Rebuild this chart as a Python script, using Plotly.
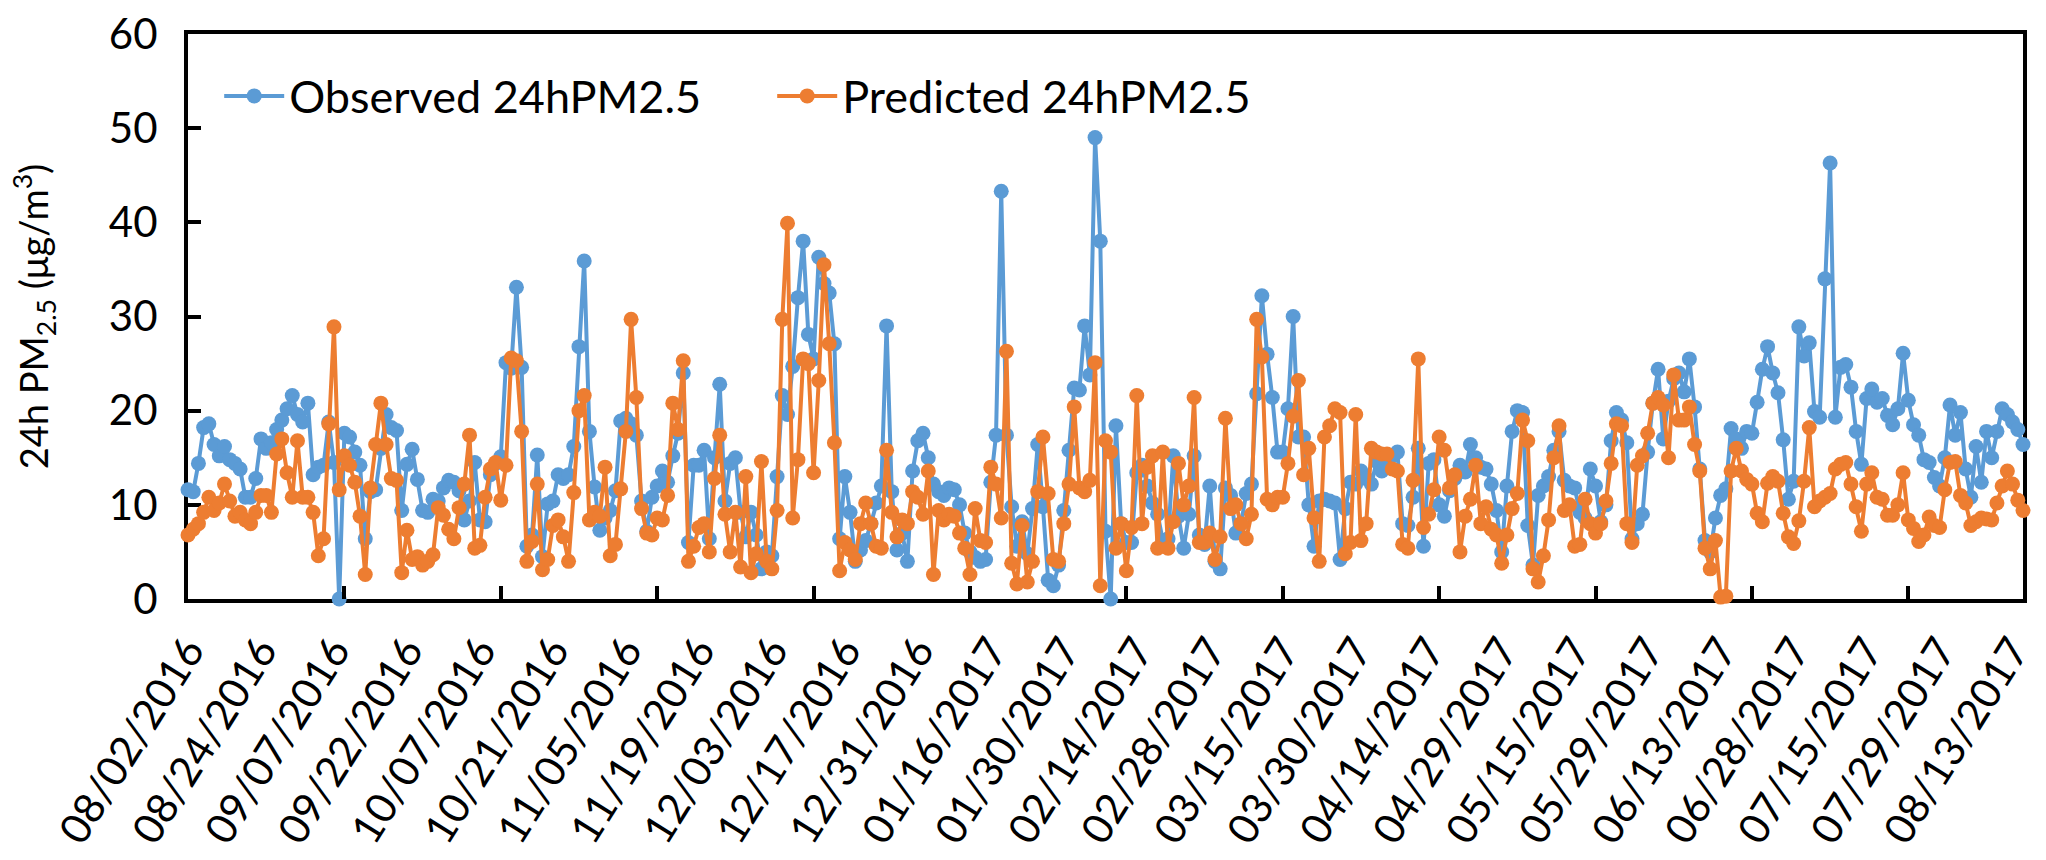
import plotly.graph_objects as go

tick_labels = ["08/02/2016", "08/24/2016", "09/07/2016", "09/22/2016", "10/07/2016",
               "10/21/2016", "11/05/2016", "11/19/2016", "12/03/2016", "12/17/2016",
               "12/31/2016", "01/16/2017", "01/30/2017", "02/14/2017", "02/28/2017",
               "03/15/2017", "03/30/2017", "04/14/2017", "04/29/2017", "05/15/2017",
               "05/29/2017", "06/13/2017", "06/28/2017", "07/15/2017", "07/29/2017",
               "08/13/2017"]
label_step = 14   # one date label every 14 records
mark_step = 30    # one tick mark every 30 records

observed = [
    11.6, 11.4, 14.4, 18.2, 18.6, 16.4, 15.2, 16.2, 14.8, 14.4,
    13.8, 10.8, 10.8, 12.8, 17.0, 16.0, 16.6, 18.0, 19.0, 20.2,
    21.6, 19.6, 18.8, 20.8, 13.2, 14.0, 14.2, 18.8, 14.5, 0.0,
    17.6, 17.2, 15.6, 14.2, 6.4, 11.4, 11.6, 16.0, 19.6, 18.2,
    17.9, 9.4, 14.3, 15.9, 12.7, 9.4, 9.2, 10.6, 10.4, 11.8,
    12.6, 12.4, 11.5, 8.4, 10.4, 14.5, 8.4, 8.2, 13.2, 14.4,
    15.1, 25.1, 24.5, 33.1, 24.6, 5.6, 6.8, 15.3, 4.5, 10.1,
    10.4, 13.2, 12.8, 13.2, 16.2, 26.8, 35.9, 17.8, 11.9, 7.3,
    8.6, 9.4, 11.5, 18.9, 19.2, 18.6, 17.4, 10.4, 7.2, 10.8,
    12.0, 13.6, 12.4, 15.2, 17.6, 24.0, 6.0, 14.2, 14.2, 15.8,
    6.4, 15.0, 22.8, 10.4, 14.4, 15.0, 9.2, 6.6, 9.2, 6.8,
    3.2, 5.0, 4.6, 13.0, 21.6, 19.6, 24.7, 32.0, 38.0, 28.1,
    25.5, 36.3, 33.5, 32.5, 27.1, 6.4, 13.0, 9.2, 4.0, 5.2,
    6.2, 8.0, 10.2, 12.0, 29.0, 11.4, 5.2, 7.0, 4.0, 13.6,
    16.8, 17.6, 15.0, 12.2, 11.4, 11.0, 11.8, 11.6, 10.0, 7.0,
    5.0, 4.4, 4.0, 4.2, 12.4, 17.4, 43.3, 17.4, 9.8, 5.6,
    8.2, 4.8, 9.6, 16.4, 9.8, 2.0, 1.4, 3.6, 9.4, 15.8,
    22.4, 22.2, 29.0, 23.8, 49.0, 38.0, 7.2, 0.0, 18.4, 8.0,
    6.0, 6.0, 13.4, 14.2, 12.0, 10.2, 9.0, 6.2, 6.4, 15.2,
    8.8, 5.4, 9.0, 15.2, 6.8, 5.8, 12.0, 4.0, 3.2, 11.8,
    11.0, 7.0, 8.0, 11.2, 12.2, 21.8, 32.2, 26.0, 21.4, 15.6,
    15.6, 20.2, 30.0, 17.2, 17.2, 10.0, 5.6, 10.4, 10.6, 10.4,
    10.2, 4.2, 9.6, 12.4, 12.2, 13.6, 12.8, 12.2, 14.6, 13.6,
    14.4, 15.2, 15.6, 8.0, 7.8, 10.8, 16.0, 5.6, 14.4, 14.8,
    10.0, 8.8, 11.5, 12.8, 14.2, 13.5, 16.4, 15.0, 14.0, 13.8,
    12.2, 9.4, 5.0, 12.0, 17.8, 20.0, 19.8, 7.8, 3.6, 11.0,
    12.0, 13.0, 15.8, 17.8, 12.6, 12.0, 11.8, 9.2, 8.6, 13.8,
    12.0, 8.2, 10.0, 16.8, 19.8, 19.0, 16.6, 6.4, 8.0, 9.0,
    15.6, 20.8, 24.4, 17.0, 21.0, 23.4, 24.0, 22.0, 25.5, 20.4,
    13.8, 6.2, 5.0, 8.6, 11.0, 11.7, 18.1, 17.0, 16.0, 17.8,
    17.6, 20.9, 24.4, 26.8, 24.0, 21.9, 16.9, 10.6, 12.5, 28.9,
    25.8, 27.2, 19.9, 19.3, 34.0, 46.3, 19.3, 24.6, 24.9, 22.5,
    17.8, 14.3, 21.3, 22.3, 20.9, 21.3, 19.5, 18.5, 20.2, 26.1,
    21.1, 18.5, 17.4, 14.8, 14.5, 12.9, 12.0, 15.0, 20.6, 17.4,
    19.8, 13.8, 10.8, 16.2, 12.4, 17.8, 15.0, 17.8, 20.2, 19.6,
    18.8, 18.0, 16.4,
]

predicted = [
    6.8, 7.4, 8.0, 9.2, 10.8, 9.4, 10.2, 12.2, 10.4, 8.8,
    9.2, 8.4, 8.0, 9.2, 11.0, 11.0, 9.2, 15.4, 17.0, 13.4,
    10.8, 16.8, 10.8, 10.8, 9.2, 4.6, 6.4, 18.6, 28.9, 11.6,
    15.2, 14.2, 12.4, 8.8, 2.6, 11.8, 16.4, 20.8, 16.4, 12.8,
    12.6, 2.8, 7.3, 4.2, 4.5, 3.6, 4.0, 4.7, 9.7, 8.9,
    7.4, 6.4, 9.7, 12.2, 17.4, 5.4, 5.7, 10.8, 13.8, 14.5,
    10.5, 14.2, 25.6, 25.3, 17.8, 4.0, 6.1, 12.2, 3.1, 4.2,
    7.8, 8.4, 6.6, 4.0, 11.3, 20.0, 21.6, 8.4, 9.2, 8.8,
    14.0, 4.6, 5.8, 11.7, 17.8, 29.7, 21.4, 9.6, 7.0, 6.8,
    8.6, 8.4, 11.0, 20.8, 18.0, 25.3, 4.0, 5.6, 7.6, 8.0,
    5.0, 12.8, 17.4, 9.0, 5.0, 9.2, 3.4, 13.0, 2.8, 4.8,
    14.6, 4.0, 3.2, 9.4, 29.7, 39.9, 8.6, 14.8, 25.5, 25.0,
    13.4, 23.2, 35.5, 27.1, 16.6, 3.0, 6.0, 5.2, 4.2, 8.0,
    10.2, 8.0, 5.6, 5.4, 15.8, 9.2, 6.6, 8.4, 8.0, 11.4,
    10.8, 9.0, 13.6, 2.6, 9.4, 8.4, 9.0, 8.8, 7.0, 5.4,
    2.6, 9.6, 6.2, 6.0, 14.0, 12.2, 8.6, 26.3, 3.8, 1.6,
    7.8, 1.8, 4.0, 11.4, 17.2, 11.2, 4.2, 4.0, 8.0, 12.2,
    20.4, 11.8, 11.4, 12.6, 25.1, 1.4, 16.8, 15.6, 5.4, 8.0,
    3.0, 7.6, 21.6, 8.0, 14.0, 15.2, 5.4, 15.6, 5.4, 8.2,
    14.4, 10.0, 12.0, 21.4, 6.0, 6.0, 7.0, 4.2, 6.6, 19.2,
    9.6, 10.0, 8.0, 6.4, 9.0, 29.7, 25.7, 10.6, 10.0, 10.8,
    10.8, 14.4, 19.4, 23.2, 13.2, 16.0, 8.6, 4.0, 17.2, 18.4,
    20.2, 19.8, 4.8, 6.0, 19.6, 6.2, 8.0, 16.0, 15.6, 15.4,
    15.4, 13.8, 13.6, 5.8, 5.4, 12.6, 25.5, 7.6, 9.0, 11.6,
    17.2, 15.8, 11.8, 13.2, 5.0, 8.8, 10.6, 14.2, 8.0, 9.8,
    7.4, 6.8, 3.8, 6.8, 9.6, 11.2, 19.0, 16.8, 3.2, 1.8,
    4.6, 8.4, 15.0, 18.4, 9.4, 10.0, 5.6, 5.8, 10.6, 8.0,
    7.0, 8.0, 10.4, 14.4, 18.6, 18.4, 8.0, 6.0, 14.2, 15.2,
    17.6, 20.8, 21.4, 20.6, 15.0, 23.8, 19.0, 19.0, 20.4, 16.4,
    13.6, 5.4, 3.2, 6.2, 0.2, 0.3, 13.6, 16.0, 13.6, 12.7,
    12.2, 9.1, 8.2, 12.3, 13.0, 12.5, 9.1, 6.6, 5.9, 8.3,
    12.5, 18.2, 9.8, 10.4, 10.8, 11.2, 13.8, 14.3, 14.5, 12.2,
    9.8, 7.2, 12.2, 13.4, 10.8, 10.6, 8.9, 8.9, 10.0, 13.4,
    8.4, 7.5, 6.1, 6.8, 8.7, 7.8, 7.6, 11.6, 14.5, 14.6,
    11.0, 10.2, 7.8, 8.2, 8.6, 8.5, 8.4, 10.2, 12.0, 13.6,
    12.2, 10.5, 9.4,
]

BLUE = "#5B9BD5"
ORANGE = "#ED7D31"
FONT = "Lato"

n = len(observed)
x = list(range(n))
label_pos = list(range(0, n, label_step))[:len(tick_labels)]
mark_pos = list(range(0, n, mark_step))

fig = go.Figure()
fig.add_trace(go.Scatter(
    x=x, y=observed, name="Observed 24hPM2.5", mode="lines+markers",
    line=dict(color=BLUE, width=4), marker=dict(color=BLUE, size=15),
    cliponaxis=False))
fig.add_trace(go.Scatter(
    x=x, y=predicted, name="Predicted 24hPM2.5", mode="lines+markers",
    line=dict(color=ORANGE, width=4), marker=dict(color=ORANGE, size=15),
    cliponaxis=False))
# empty trace carrying the tick-mark axis
fig.add_trace(go.Scatter(x=[x[0], x[-1]], y=[None, None], xaxis="x2",
                         showlegend=False, hoverinfo="skip"))

fig.update_layout(
    width=2046, height=860,
    margin=dict(l=188, r=8, t=26, b=260),
    paper_bgcolor="white", plot_bgcolor="white",
    font=dict(family=FONT, color="black"),
    showlegend=True,
    legend=dict(orientation="h", x=0.017, y=0.89, xanchor="left", yanchor="middle",
                font=dict(family=FONT, size=45, color="black"),
                bgcolor="rgba(0,0,0,0)", entrywidth=478, entrywidthmode="pixels",
                itemwidth=60),
    xaxis=dict(range=[0, n - 1], tickmode="array", tickvals=label_pos, ticktext=tick_labels,
               tickangle=-58, ticks="", showgrid=False, zeroline=False,
               showline=True, linecolor="black", linewidth=4, mirror=True,
               tickfont=dict(family=FONT, size=42, color="black"),
               ticklabeloverflow="allow", ticklabelstandoff=6,
               layer="below traces"),
    xaxis2=dict(range=[0, n - 1], overlaying="x", anchor="y", side="bottom",
                tickmode="array", tickvals=mark_pos, ticks="inside", ticklen=13,
                tickwidth=4, tickcolor="black", showticklabels=False,
                showgrid=False, zeroline=False, showline=False),
    yaxis=dict(range=[0, 60], dtick=10, ticks="inside", ticklen=13, tickwidth=4,
               tickcolor="black", showgrid=False, zeroline=False,
               showline=True, linecolor="black", linewidth=4, mirror=True,
               tickfont=dict(family=FONT, size=42, color="black"),
               ticklabelstandoff=18, ticklabeloverflow="allow", layer="below traces",
               title=dict(text="24h PM<sub>2.5</sub> (μg/m<sup>3</sup>)",
                          font=dict(family=FONT, size=38, color="black"),
                          standoff=50)),
)

fig.write_html("out.html")
